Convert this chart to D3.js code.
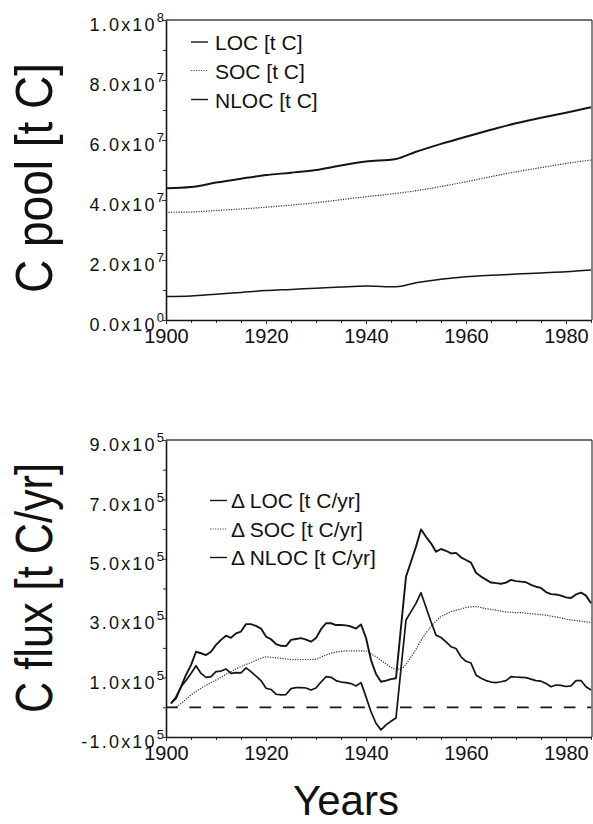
<!DOCTYPE html>
<html><head><meta charset="utf-8">
<script src="https://cdn.jsdelivr.net/npm/d3@7"></script>
<style>
body{margin:0;background:#fff}
svg{display:block}
text{font-family:"Liberation Sans",Arial,Helvetica,sans-serif;fill:#111}
</style>
</head><body>
<svg id="c" width="593" height="824"></svg>
<script>
// ---------- DATA ----------
// Top panel: C pools (10^6 t C)
const poolYears = [1900,1905,1910,1915,1920,1925,1930,1935,1940,1946,1950,1955,1960,1965,1970,1975,1980,1985];
const locPool  = [7.8,8.0,8.6,9.2,9.8,10.2,10.6,11.0,11.3,11.1,12.4,13.6,14.4,14.9,15.3,15.7,16.1,16.7];
const socPool  = [35.9,36.0,36.5,37.0,37.6,38.3,39.1,40.1,41.1,42.2,43.1,44.5,46.1,47.8,49.4,50.8,52.2,53.3];
const nlocPool = [43.9,44.3,45.8,47.1,48.3,49.1,50.0,51.5,52.8,53.7,56.1,58.7,61.1,63.4,65.6,67.4,69.1,70.9];

// Bottom panel: C fluxes (10^5 t C/yr)
const fluxYears = [1900,1901,1902,1903,1904,1905,1906,1907,1908,1909,1910,1911,1912,1913,1914,1915,1916,1917,1918,1919,
  1920,1921,1922,1923,1924,1925,1926,1927,1928,1929,1930,1931,1932,1933,1934,1935,1936,1937,1938,1939,
  1940,1941,1942,1943,1944,1945,1946,1947,1948,1949,1950,1951,1952,1953,1954,1955,1956,1957,1958,1959,
  1960,1961,1962,1963,1964,1965,1966,1967,1968,1969,1970,1971,1972,1973,1974,1975,1976,1977,1978,1979,
  1980,1981,1982,1983,1984,1985];
const dLOC = [null,0.13,0.35,0.69,0.90,1.14,1.40,1.14,1.01,1.03,1.20,1.22,1.29,1.14,1.17,1.16,1.33,1.20,1.05,0.90,
  0.64,0.60,0.44,0.42,0.43,0.63,0.66,0.66,0.65,0.58,0.65,0.85,1.03,1.01,0.90,0.85,0.83,0.80,0.72,0.83,
  0.35,-0.15,-0.54,-0.76,-0.59,-0.47,-0.36,1.30,2.94,3.22,3.50,3.86,3.37,2.88,2.43,2.35,2.20,2.04,1.98,1.70,
  1.55,1.49,1.09,0.98,0.90,0.85,0.83,0.86,0.90,1.03,1.02,1.01,1.00,0.95,0.90,0.88,0.80,0.69,0.75,0.74,
  0.70,0.72,0.90,0.90,0.69,0.58];
const dSOC = [0,0,0.02,0.13,0.27,0.41,0.53,0.64,0.74,0.83,0.92,1.01,1.11,1.20,1.29,1.37,1.44,1.51,1.58,1.65,
  1.70,1.68,1.67,1.65,1.63,1.61,1.61,1.61,1.61,1.61,1.62,1.69,1.76,1.82,1.86,1.88,1.90,1.90,1.90,1.90,
  1.89,1.80,1.70,1.58,1.46,1.35,1.28,1.30,1.45,1.70,1.95,2.25,2.50,2.72,2.90,3.05,3.14,3.22,3.27,3.31,
  3.36,3.38,3.39,3.36,3.32,3.30,3.27,3.24,3.21,3.20,3.19,3.19,3.17,3.15,3.14,3.12,3.10,3.07,3.04,3.01,
  2.97,2.94,2.92,2.90,2.88,2.86];
const dNLOC = [null,0.13,0.30,0.69,1.09,1.42,1.87,1.82,1.76,1.87,2.10,2.27,2.41,2.34,2.49,2.55,2.80,2.80,2.74,2.65,
  2.38,2.29,2.13,2.07,2.06,2.27,2.30,2.33,2.28,2.21,2.33,2.63,2.83,2.83,2.77,2.77,2.76,2.72,2.65,2.79,
  2.34,1.59,1.12,0.86,0.90,0.95,0.98,2.70,4.40,4.90,5.41,5.99,5.74,5.52,5.24,5.33,5.27,5.18,5.20,5.05,
  4.96,4.87,4.53,4.40,4.30,4.20,4.18,4.16,4.20,4.29,4.25,4.23,4.21,4.12,4.06,4.02,3.88,3.81,3.80,3.76,
  3.70,3.68,3.80,3.86,3.76,3.50];
const zeroRef = [0,0];
const zeroYears = [1900,1985];

// Tick labels
const xTickYears = [1900,1920,1940,1960,1980];
const poolTicks = [0,2e7,4e7,6e7,8e7,1e8];
const poolMant = ["0.0x10","2.0x10","4.0x10","6.0x10","8.0x10","1.0x10"];
const poolExp  = ["0","7","7","7","7","8"];
const fluxTicks = [-1e5,1e5,3e5,5e5,7e5,9e5];
const fluxMant = ["-1.0x10","1.0x10","3.0x10","5.0x10","7.0x10","9.0x10"];
const fluxExp  = ["5","5","5","5","5","5"];

const poolLegend = ["LOC [t C]","SOC [t C]","NLOC [t C]"];
const fluxLegend = ["\u0394 LOC [t C/yr]","\u0394 SOC [t C/yr]","\u0394 NLOC [t C/yr]"];

// ---------- DRAW ----------
const svg = d3.select("#c");
const X0 = 166, X1 = 591;
const x = d3.scaleLinear().domain([1900,1985]).range([X0,X1]);
const ink = "#151515";

function panel(top, bottom, yDomain, majorTicks, minorTicks, mant, exp){
  const y = d3.scaleLinear().domain(yDomain).range([bottom, top]);
  const g = svg.append("g");
  g.append("line").attr("x1",X0).attr("x2",X1+1).attr("y1",top).attr("y2",top).attr("stroke","#444").attr("stroke-width",1.3);
  g.append("line").attr("x1",X1+1).attr("x2",X1+1).attr("y1",top).attr("y2",bottom).attr("stroke","#444").attr("stroke-width",1.3);
  g.append("g").attr("transform",`translate(${X0},0)`)
    .call(d3.axisLeft(y).tickValues(minorTicks).tickSize(3).tickFormat(()=>""))
    .call(a=>a.select(".domain").remove())
    .call(a=>a.selectAll("line").attr("stroke","#333"));
  const ya = g.append("g").attr("transform",`translate(${X0},0)`)
    .call(d3.axisLeft(y).tickValues(majorTicks).tickSize(4).tickSizeOuter(0));
  ya.attr("font-family",null).attr("font-size",null);
  ya.select(".domain").attr("stroke",ink).attr("stroke-width",1.6);
  ya.selectAll("line").attr("stroke","#333");
  ya.selectAll(".tick text").each(function(d,i){
    const t = d3.select(this).text(null)
      .attr("x",-2).attr("y",10.7).attr("dy",null)
      .attr("text-anchor","end").attr("fill",ink);
    t.append("tspan").attr("font-size",18).attr("letter-spacing",2.2).text(mant[i]);
    t.append("tspan").attr("font-size",13).attr("dy",-9).attr("letter-spacing",0).text(exp[i]);
  });
  g.append("g").attr("transform",`translate(0,${bottom})`)
    .call(d3.axisBottom(x).tickValues(d3.range(1905,1986,5)).tickSize(3).tickFormat(()=>""))
    .call(a=>a.select(".domain").remove())
    .call(a=>a.selectAll("line").attr("stroke","#333"));
  const xa = g.append("g").attr("transform",`translate(0,${bottom})`)
    .call(d3.axisBottom(x).tickValues(xTickYears).tickSize(4).tickSizeOuter(0).tickFormat(d3.format("d")));
  xa.attr("font-family",null).attr("font-size",null);
  xa.select(".domain").attr("stroke",ink).attr("stroke-width",1.6);
  xa.selectAll("line").attr("stroke","#333");
  xa.selectAll(".tick text").attr("y",23).attr("dy",null).attr("font-size",20).attr("fill",ink);
  return {g,y};
}

// ---- top panel ----
const P = panel(20, 320, [0,1e8], poolTicks, d3.range(1e7,1e8,1e7), poolMant, poolExp);
const lineTop = arr => d3.line().x((d,i)=>x(poolYears[i])).y(d=>P.y(d*1e6)).curve(d3.curveMonotoneX)(arr);
P.g.append("path").attr("d",lineTop(locPool)).attr("fill","none").attr("stroke",ink).attr("stroke-width",1.5);
P.g.append("path").attr("d",lineTop(socPool)).attr("fill","none").attr("stroke","#333").attr("stroke-width",1.2).attr("stroke-dasharray","1.2,1.3");
P.g.append("path").attr("d",lineTop(nlocPool)).attr("fill","none").attr("stroke",ink).attr("stroke-width",2);

const topLegY = [50,78.5,107.5];
poolLegend.forEach((t,i)=>{
  P.g.append("line").attr("x1",191).attr("x2",208).attr("y1",topLegY[i]-8).attr("y2",topLegY[i]-8)
    .attr("stroke", i===1?"#555":ink).attr("stroke-width", i===1?1.2:1.4)
    .attr("stroke-dasharray", i===1?"1.2,1.3":null);
  P.g.append("text").attr("x",215).attr("y",topLegY[i]).attr("font-size",21).text(t);
});

// ---- bottom panel ----
const F = panel(440, 737, [-1e5,9e5], fluxTicks, [0,2e5,4e5,6e5,8e5], fluxMant, fluxExp);
F.g.append("path").attr("d",d3.line().x((d,i)=>x(zeroYears[i])).y(d=>F.y(d))(zeroRef))
  .attr("fill","none").attr("stroke",ink).attr("stroke-width",1.8).attr("stroke-dasharray","11.7,11.7");
const lineSOC = d3.line().x((d,i)=>x(fluxYears[i])).y(d=>F.y(d*1e5)).curve(d3.curveMonotoneX);
F.g.append("path").attr("d",lineSOC(dSOC)).attr("fill","none").attr("stroke","#333").attr("stroke-width",1.2).attr("stroke-dasharray","1.2,1.3");
const lineBot = d3.line().defined(d=>d!=null).x((d,i)=>x(fluxYears[i])).y(d=>F.y(d*1e5));
F.g.append("path").attr("d",lineBot(dLOC)).attr("fill","none").attr("stroke",ink).attr("stroke-width",1.7).attr("stroke-linejoin","round");
F.g.append("path").attr("d",lineBot(dNLOC)).attr("fill","none").attr("stroke",ink).attr("stroke-width",1.9).attr("stroke-linejoin","round");

const botLegY = [508,536.5,565];
fluxLegend.forEach((t,i)=>{
  F.g.append("line").attr("x1",210).attr("x2",227).attr("y1",botLegY[i]-7.5).attr("y2",botLegY[i]-7.5)
    .attr("stroke", i===1?"#555":ink).attr("stroke-width", i===1?1.2:1.4)
    .attr("stroke-dasharray", i===1?"1.2,1.3":null);
  F.g.append("text").attr("x",231).attr("y",botLegY[i]).attr("font-size",21).text(t);
});

// ---- axis titles ----
svg.append("text").attr("transform","translate(52,178) rotate(-90)").attr("text-anchor","middle")
  .attr("font-size",52).attr("textLength",230).attr("lengthAdjust","spacingAndGlyphs").text("C pool [t C]");
svg.append("text").attr("transform","translate(52,588) rotate(-90)").attr("text-anchor","middle")
  .attr("font-size",52).attr("textLength",250).attr("lengthAdjust","spacingAndGlyphs").text("C flux [t C/yr]");
svg.append("text").attr("x",346).attr("y",815).attr("text-anchor","middle").attr("font-size",42).text("Years");
</script>
</body></html>
